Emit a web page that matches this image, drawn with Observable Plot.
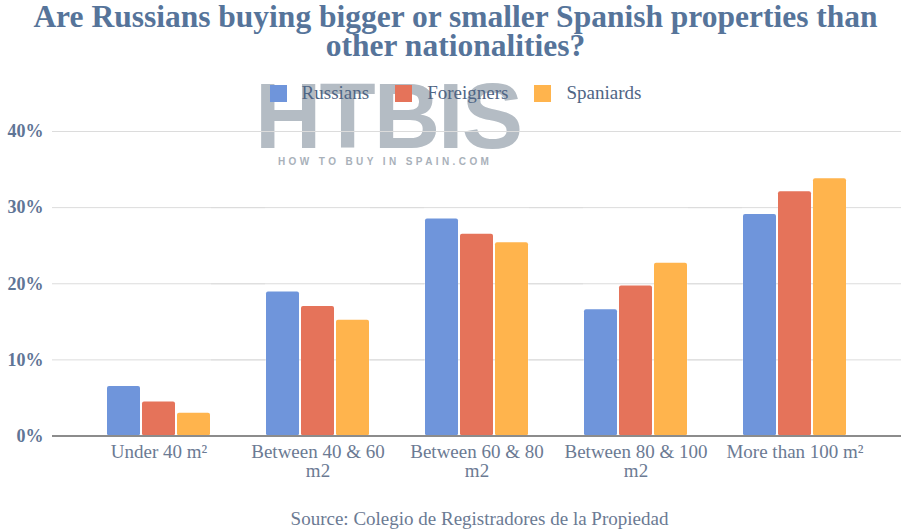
<!DOCTYPE html>
<html>
<head>
<meta charset="utf-8">
<script src="https://cdn.jsdelivr.net/npm/d3@7"></script>
<script src="https://cdn.jsdelivr.net/npm/@observablehq/plot@0.6"></script>
<style>
  body { margin: 0; background: #fff; }
  #wrap { position: relative; width: 903px; height: 530px; overflow: hidden; font-family: "Liberation Serif", "DejaVu Serif", serif; }
  #title { position: absolute; top: 2px; left: 4px; width: 903px; text-align: center; font-weight: bold; font-size: 31.5px; line-height: 29px; color: #56749a; z-index: 2; white-space: nowrap; }
  #legend { position: absolute; top: 82px; left: 4px; width: 903px; display: flex; justify-content: center; align-items: center; font-size: 19px; color: #4f6585; z-index: 2; }
  #legend .item { display: flex; align-items: center; margin: 0 13px; }
  #legend .sw { width: 17px; height: 17px; margin-right: 15px; }
  #wm { position: absolute; left: 255px; top: 70px; z-index: 0; font-family: "Liberation Sans", Arial, sans-serif; color: #b4bcc4; }
  #wm .big { font-size: 92px; font-weight: bold; line-height: 92px; letter-spacing: -2px; }
  #wm .small { font-size: 10px; font-weight: bold; letter-spacing: 3.4px; margin-left: 23px; margin-top: -6px; color: #a9b1ba; }
  #chart { position: absolute; top: 110px; left: 0; z-index: 1; }
  #chart svg { background: transparent; }
  #caption { position: absolute; top: 508px; left: 28px; width: 903px; text-align: center; font-size: 19px; line-height: 22px; color: #6b7a93; z-index: 2; }
</style>
</head>
<body>
<div id="wrap">
  <div id="title">Are Russians buying bigger or smaller Spanish properties than<br>other nationalities?</div>
  <div id="wm"><div class="big">HTBIS</div><div class="small">HOW TO BUY IN SPAIN.COM</div></div>
  <div id="legend"></div>
  <div id="chart"></div>
  <div id="caption">Source: Colegio de Registradores de la Propiedad</div>
</div>
<script>
const categories = ["Under 40", "40-60", "60-80", "80-100", "More than 100"];
const tickLabels = ["Under 40 m\u00b2", "Between 40 & 60\nm2", "Between 60 & 80\nm2", "Between 80 & 100\nm2", "More than 100 m\u00b2"];
const series = ["Russians", "Foreigners", "Spaniards"];
const seriesColors = ["#6f95db", "#e5735a", "#ffb44d"];
const russians   = [6.5, 18.9, 28.5, 16.6, 29.1];
const foreigners = [4.45, 17.0, 26.5, 19.7, 32.1];
const spaniards  = [3.0, 15.2, 25.4, 22.7, 33.8];
const yTicks = [0, 10, 20, 30, 40];

const valuesBySeries = [russians, foreigners, spaniards];
const data = [];
categories.forEach((c, i) => {
  series.forEach((s, j) => data.push({category: c, series: s, value: valuesBySeries[j][i]}));
});

// legend
const legend = document.getElementById("legend");
series.forEach((s, j) => {
  const it = document.createElement("div");
  it.className = "item";
  it.innerHTML = `<span class="sw" style="background:${seriesColors[j]}"></span><span>${s}</span>`;
  legend.appendChild(it);
});

const chart = Plot.plot({
  width: 903,
  height: 380,
  marginLeft: 53,
  marginRight: 3,
  marginTop: 21,
  marginBottom: 54.5,
  style: {background: "transparent", fontFamily: "Liberation Serif, serif", overflow: "visible"},
  fx: {domain: categories, paddingInner: 0, paddingOuter: 0.1635, label: null, axis: null},
  x: {domain: series, paddingInner: 0.06, paddingOuter: 0.8, axis: null},
  y: {domain: [0, 40], axis: null},
  color: {domain: series, range: seriesColors},
  marks: [
    Plot.ruleY(yTicks.filter(d => d > 0), {stroke: "#dcdcdc", strokeWidth: 1, insetLeft: -27, insetRight: -27}),
    Plot.barY(data, {fx: "category", x: "series", y: "value", fill: "series", rx: 2}),
    Plot.ruleY([0], {stroke: "#8c8c8c", strokeWidth: 2, insetLeft: -27, insetRight: -27}),
    Plot.axisY({ticks: yTicks, tickSize: 0, tickPadding: 10, dx: -26, label: null, fontSize: 18, fill: "#5f7596", fontWeight: "bold", tickFormat: d => d + "%"}),
    Plot.axisFx({anchor: "bottom", tickSize: 0, tickPadding: 9, label: null, fontSize: 19, lineHeight: 0.97, fill: "#6b7a93", tickFormat: (d) => tickLabels[categories.indexOf(d)]})
  ]
});
document.getElementById("chart").appendChild(chart);
</script>
</body>
</html>
